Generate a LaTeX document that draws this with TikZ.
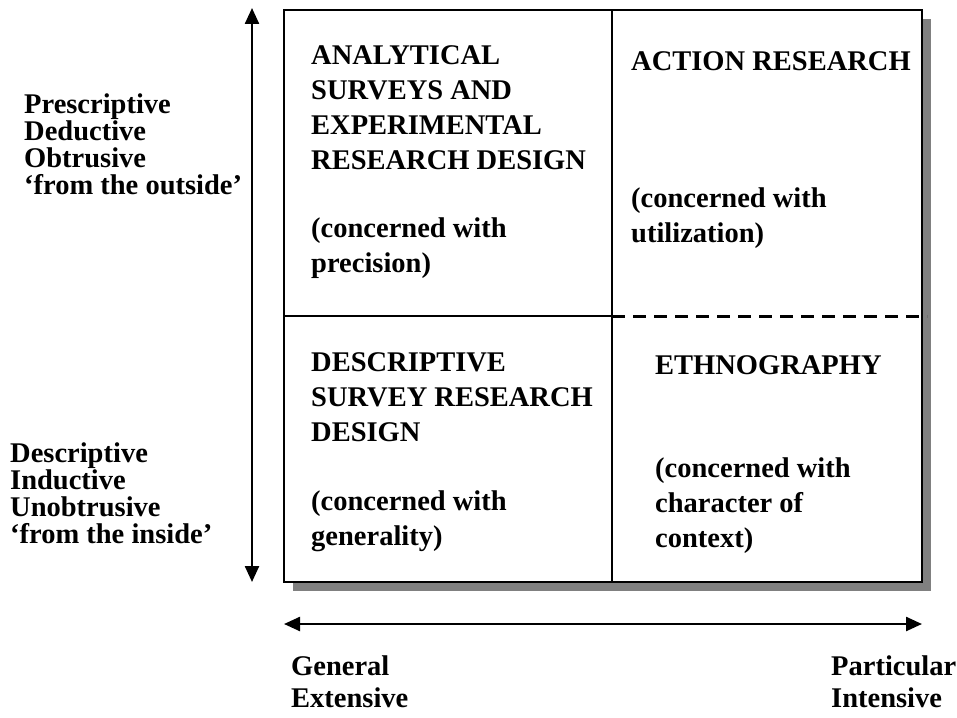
\documentclass[tikz,border=0pt]{standalone}
\usepackage{fontspec}
\setmainfont{Liberation Serif}
\usetikzlibrary{arrows.meta}
\begin{document}
\begin{tikzpicture}[x=1pt,y=-1pt,
  lbl/.style={anchor=north west,inner sep=0pt,align=left,font=\fontsize{28.5}{35}\selectfont\bfseries},
  side/.style={anchor=north west,inner sep=0pt,align=left,font=\fontsize{28.5}{27}\selectfont\bfseries},
  axis/.style={line width=2.4pt,{Triangle[width=14pt,length=16pt]}-{Triangle[width=14pt,length=16pt]}},
  frame/.style={line width=2pt},
  divider/.style={line width=2.5pt},
  dashdiv/.style={line width=3pt,dash pattern=on 13pt off 8pt}]
\useasboundingbox (0,0) rectangle (957,717);
% box corners
\coordinate (tl) at (284,10);
\coordinate (br) at (922,582);
\coordinate (mt) at (612,10);
\coordinate (mb) at (612,582);
\coordinate (ml) at (284,316);
\coordinate (mm) at (612,316);
\coordinate (mr) at (927,316);
% shadow
\fill[black!50] (293,19) rectangle (931,591);
\fill[white] (tl) rectangle (br);
\draw[frame] (tl) rectangle (br);
\draw[divider] (mt) -- (mb);
\draw[divider] (ml) -- (mm);
\draw[dashdiv] (mm) -- (mr);
% axes
\coordinate (vtop) at (252,8);
\coordinate (vbot) at (252,582);
\coordinate (hl) at (284,624);
\coordinate (hr) at (922,624);
\draw[axis] (vbot) -- (vtop);
\draw[axis] (hl) -- (hr);
% quadrant texts
\node[lbl] (ana) at (311,45) {ANALYTICAL\\SURVEYS AND\\EXPERIMENTAL\\RESEARCH DESIGN};
\node[lbl] (prec) at (311,218) {(concerned with\\precision)};
\node[lbl] (act) at (631,51) {ACTION RESEARCH};
\node[lbl] (util) at (631,188) {(concerned with\\utilization)};
\node[lbl] (desc) at (311,352) {DESCRIPTIVE\\SURVEY RESEARCH\\DESIGN};
\node[lbl] (gen) at (311,491) {(concerned with\\generality)};
\node[lbl] (eth) at (655,355) {ETHNOGRAPHY};
\node[lbl] (char) at (655,458) {(concerned with\\character of\\context)};
% side labels
\node[side] (pres) at (24,94) {Prescriptive\\Deductive\\Obtrusive\\‘from the outside’};
\node[side] (descr) at (10,443) {Descriptive\\Inductive\\Unobtrusive\\‘from the inside’};
\node[lbl,font=\fontsize{28.5}{32}\selectfont\bfseries] (genl) at (291,656) {General\\Extensive};
\node[lbl,font=\fontsize{28.5}{32}\selectfont\bfseries] (part) at (831,656) {Particular\\Intensive};
\end{tikzpicture}
\end{document}
